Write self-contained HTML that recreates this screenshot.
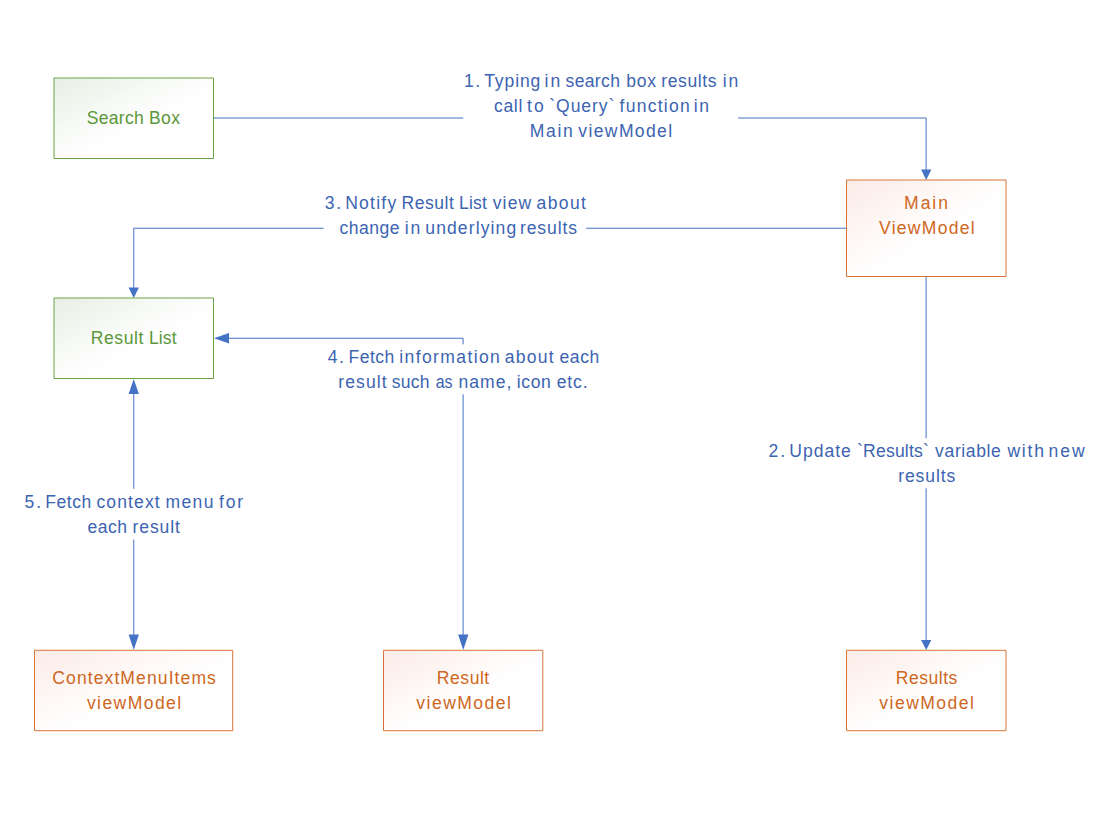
<!DOCTYPE html>
<html lang="en">
<head>
<meta charset="utf-8">
<title>Search flow diagram</title>
<style>
html,body{margin:0;padding:0;background:#fff;}
body{width:1110px;height:820px;overflow:hidden;}
svg{display:block;}
text{font-family:"Liberation Sans",sans-serif;font-size:18.5px;}
.b{fill:#3C64B1;}
.g{fill:#5B9739;}
.o{fill:#CE6722;}
.ln{fill:none;stroke:#4472C4;stroke-width:1;}
.ah{fill:#4472C4;stroke:none;}
</style>
</head>
<body>
<svg width="1110" height="820" viewBox="0 0 1110 820">
<defs>
<linearGradient id="gf" x1="0" y1="0" x2="1" y2="1">
<stop offset="0" stop-color="#E8EFE5"/><stop offset="0.2" stop-color="#F0F5EE"/><stop offset="0.4" stop-color="#F9FBF8"/><stop offset="0.55" stop-color="#FEFEFE"/><stop offset="0.7" stop-color="#FFFFFF"/>
</linearGradient>
<linearGradient id="of" x1="0" y1="0" x2="1" y2="1">
<stop offset="0" stop-color="#FCECE7"/><stop offset="0.2" stop-color="#FDF2EF"/><stop offset="0.4" stop-color="#FEFAF8"/><stop offset="0.55" stop-color="#FFFEFE"/><stop offset="0.7" stop-color="#FFFFFF"/>
</linearGradient>
</defs>
<!-- boxes -->
<rect x="54" y="78" width="159.5" height="80.5" fill="url(#gf)" stroke="#6BA343" stroke-width="1" stroke-linejoin="round"/>
<rect x="54" y="298" width="159.5" height="80.5" fill="url(#gf)" stroke="#6BA343" stroke-width="1" stroke-linejoin="round"/>
<rect x="846.5" y="180" width="159.5" height="96.5" fill="url(#of)" stroke="#D87437" stroke-width="1" stroke-linejoin="round"/>
<rect x="34.5" y="650.3" width="198.2" height="80.4" fill="url(#of)" stroke="#D87437" stroke-width="1" stroke-linejoin="round"/>
<rect x="383.5" y="650.3" width="159.3" height="80.4" fill="url(#of)" stroke="#D87437" stroke-width="1" stroke-linejoin="round"/>
<rect x="846.5" y="650.3" width="159.5" height="80.4" fill="url(#of)" stroke="#D87437" stroke-width="1" stroke-linejoin="round"/>
<!-- connector 1 -->
<path class="ln" d="M213.5 118H463.2M738 118H926.1V170"/>
<path class="ah" d="M921.1 169.5h10.2L926.2 180z"/>
<!-- connector 2 -->
<path class="ln" d="M926.1 276.5V438.2M926.1 488.4V640.5"/>
<path class="ah" d="M921.1 640h10.2L926.2 650z"/>
<!-- connector 3 -->
<path class="ln" d="M846.5 228.25H586M323.6 228.25H133.75V288"/>
<path class="ah" d="M128.6 287.5h10.3L133.75 298z"/>
<!-- connector 4 -->
<path class="ln" d="M228.5 338.25H463.1V344.4M463.1 394.4V635"/>
<path class="ah" d="M229 333v10.6L214 338.25z"/>
<path class="ah" d="M458.1 634.5h10.3L463.25 650z"/>
<!-- connector 5 -->
<path class="ln" d="M133.75 393.5V488.8M133.75 539.6V635"/>
<path class="ah" d="M128.6 394h10.3L133.75 379z"/>
<path class="ah" d="M128.6 634.5h10.3L133.75 650z"/>
<text class="b" y="87" transform="scale(0.95,1)"><tspan x="488.55" textLength="16.79" lengthAdjust="spacing">1.</tspan> <tspan x="509.66" textLength="59.19" lengthAdjust="spacing">Typing</tspan> <tspan x="573.30" textLength="16.36" lengthAdjust="spacing">in</tspan> <tspan x="595.38" textLength="57.15" lengthAdjust="spacing">search</tspan> <tspan x="659.26" textLength="31.25" lengthAdjust="spacing">box</tspan> <tspan x="696.10" textLength="58.06" lengthAdjust="spacing">results</tspan> <tspan x="760.67" textLength="16.36" lengthAdjust="spacing">in</tspan></text>
<text class="b" y="112" transform="scale(0.95,1)"><tspan x="519.93" textLength="29.89" lengthAdjust="spacing">call</tspan> <tspan x="554.87" textLength="17.65" lengthAdjust="spacing">to</tspan> <tspan x="578.26" textLength="68.42" lengthAdjust="spacing">`Query`</tspan> <tspan x="652.23" textLength="73.78" lengthAdjust="spacing">function</tspan> <tspan x="730.25" textLength="16.04" lengthAdjust="spacing">in</tspan></text>
<text class="b" y="137" transform="scale(0.95,1)"><tspan x="557.54" textLength="45.32" lengthAdjust="spacing">Main</tspan> <tspan x="608.81" textLength="98.68" lengthAdjust="spacing">viewModel</tspan></text>
<text class="b" y="209" transform="scale(0.95,1)"><tspan x="341.74" textLength="17.28" lengthAdjust="spacing">3.</tspan> <tspan x="363.32" textLength="53.75" lengthAdjust="spacing">Notify</tspan> <tspan x="422.66" textLength="55.08" lengthAdjust="spacing">Result</tspan> <tspan x="483.28" textLength="29.22" lengthAdjust="spacing">List</tspan> <tspan x="518.68" textLength="40.48" lengthAdjust="spacing">view</tspan> <tspan x="564.80" textLength="51.93" lengthAdjust="spacing">about</tspan></text>
<text class="b" y="234" transform="scale(0.95,1)"><tspan x="357.49" textLength="63.16" lengthAdjust="spacing">change</tspan> <tspan x="425.94" textLength="16.36" lengthAdjust="spacing">in</tspan> <tspan x="447.66" textLength="95.77" lengthAdjust="spacing">underlying</tspan> <tspan x="547.29" textLength="60.08" lengthAdjust="spacing">results</tspan></text>
<text class="b" y="363" transform="scale(0.95,1)"><tspan x="345.11" textLength="16.80" lengthAdjust="spacing">4.</tspan> <tspan x="366.87" textLength="48.06" lengthAdjust="spacing">Fetch</tspan> <tspan x="420.30" textLength="105.90" lengthAdjust="spacing">information</tspan> <tspan x="531.36" textLength="51.40" lengthAdjust="spacing">about</tspan> <tspan x="588.89" textLength="41.99" lengthAdjust="spacing">each</tspan></text>
<text class="b" y="388" transform="scale(0.95,1)"><tspan x="356.07" textLength="50.95" lengthAdjust="spacing">result</tspan> <tspan x="412.34" textLength="39.75" lengthAdjust="spacing">such</tspan> <tspan x="458.67" textLength="17.68" lengthAdjust="spacingAndGlyphs">as</tspan> <tspan x="482.59" textLength="55.67" lengthAdjust="spacing">name,</tspan> <tspan x="543.93" textLength="35.96" lengthAdjust="spacing">icon</tspan> <tspan x="585.98" textLength="32.47" lengthAdjust="spacing">etc.</tspan></text>
<text class="b" y="508" transform="scale(0.95,1)"><tspan x="25.82" textLength="17.41" lengthAdjust="spacing">5.</tspan> <tspan x="47.53" textLength="48.61" lengthAdjust="spacing">Fetch</tspan> <tspan x="101.46" textLength="66.61" lengthAdjust="spacing">context</tspan> <tspan x="174.27" textLength="50.47" lengthAdjust="spacing">menu</tspan> <tspan x="230.66" textLength="25.21" lengthAdjust="spacing">for</tspan></text>
<text class="b" y="533" transform="scale(0.95,1)"><tspan x="92.01" textLength="41.65" lengthAdjust="spacing">each</tspan> <tspan x="139.55" textLength="49.79" lengthAdjust="spacing">result</tspan></text>
<text class="b" y="457" transform="scale(0.95,1)"><tspan x="809.03" textLength="17.35" lengthAdjust="spacing">2.</tspan> <tspan x="830.88" textLength="64.77" lengthAdjust="spacing">Update</tspan> <tspan x="902.18" textLength="75.53" lengthAdjust="spacing">`Results`</tspan> <tspan x="984.35" textLength="69.21" lengthAdjust="spacing">variable</tspan> <tspan x="1060.44" textLength="38.50" lengthAdjust="spacing">with</tspan> <tspan x="1103.67" textLength="38.21" lengthAdjust="spacing">new</tspan></text>
<text class="b" y="482" transform="scale(0.95,1)"><tspan x="945.47" textLength="60.02" lengthAdjust="spacing">results</tspan></text>
<text class="g" y="124" transform="scale(0.95,1)"><tspan x="91.39" textLength="59.93" lengthAdjust="spacing">Search</tspan> <tspan x="156.72" textLength="32.85" lengthAdjust="spacing">Box</tspan></text>
<text class="g" y="344" transform="scale(0.95,1)"><tspan x="95.48" textLength="55.59" lengthAdjust="spacing">Result</tspan> <tspan x="156.72" textLength="29.27" lengthAdjust="spacing">List</tspan></text>
<text class="o" y="209" transform="scale(0.95,1)"><tspan x="951.66" textLength="46.18" lengthAdjust="spacing">Main</tspan></text>
<text class="o" y="234" transform="scale(0.95,1)"><tspan x="925.29" textLength="100.67" lengthAdjust="spacing">ViewModel</tspan></text>
<text class="o" y="684" transform="scale(0.95,1)"><tspan x="55.05" textLength="172.21" lengthAdjust="spacing">ContextMenuItems</tspan></text>
<text class="o" y="709" transform="scale(0.95,1)"><tspan x="91.51" textLength="99.25" lengthAdjust="spacing">viewModel</tspan></text>
<text class="o" y="684" transform="scale(0.95,1)"><tspan x="459.88" textLength="55.14" lengthAdjust="spacing">Result</tspan></text>
<text class="o" y="709" transform="scale(0.95,1)"><tspan x="438.27" textLength="99.56" lengthAdjust="spacing">viewModel</tspan></text>
<text class="o" y="684" transform="scale(0.95,1)"><tspan x="943.03" textLength="64.66" lengthAdjust="spacing">Results</tspan></text>
<text class="o" y="709" transform="scale(0.95,1)"><tspan x="925.64" textLength="99.56" lengthAdjust="spacing">viewModel</tspan></text>
</svg>
</body>
</html>
